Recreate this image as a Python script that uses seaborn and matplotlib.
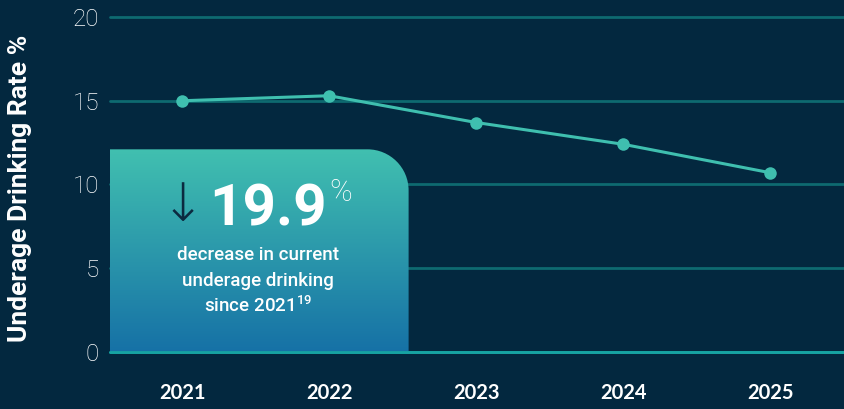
import numpy as np
import pandas as pd
import matplotlib
matplotlib.use("Agg")
import matplotlib.pyplot as plt
import seaborn as sns
from matplotlib.path import Path
from matplotlib.patches import PathPatch

years = [2021, 2022, 2023, 2024, 2025]
rates = [15.0, 15.3, 13.7, 12.4, 10.7]
y_ticks = [0, 5, 10, 15, 20]
y_label = "Underage Drinking Rate %"
big_number = "19.9"
caption_lines = ["decrease in current", "underage drinking", "since 2021"]
footnote = "19"

BG = "#03283f"
GRID = "#0e6a70"
BASE = "#17a3a2"
LINE = "#3fbfaf"

sns.set_theme(style="white")
plt.rcParams["font.family"] = ["Roboto", "DejaVu Sans"]
plt.rcParams["mathtext.default"] = "regular"

fig = plt.figure(figsize=(8.44, 4.09), dpi=100, facecolor=BG)
ax = fig.add_axes([110 / 844, (409 - 352) / 409, 1 - 110 / 844, (352 - 17) / 409])
ax.set_facecolor(BG)
for s in ax.spines.values():
    s.set_visible(False)

ax.set_xlim(2020.51, 2025.5)
ax.set_ylim(0, 20)

# gridlines
for t in y_ticks:
    ax.axhline(t, color=BASE if t == 0 else GRID, lw=2.0, zorder=1, clip_on=False)

# gradient box with rounded top-right corner
x0, x1 = 2020.51, 2022.54
y0, y1 = 0.0, 12.1
rx, ry = 0.28, 2.45
k = 0.5523
verts = [(x0, y0), (x0, y1), (x1 - rx, y1),
         (x1 - rx + k * rx, y1), (x1, y1 - ry + k * ry), (x1, y1 - ry),
         (x1, y0), (x0, y0)]
codes = [Path.MOVETO, Path.LINETO, Path.LINETO,
         Path.CURVE4, Path.CURVE4, Path.CURVE4,
         Path.LINETO, Path.CLOSEPOLY]
box_path = Path(verts, codes)
patch = PathPatch(box_path, facecolor="none", edgecolor="none", zorder=2)
ax.add_patch(patch)
top_c = np.array(matplotlib.colors.to_rgb("#41c0b0"))
bot_c = np.array(matplotlib.colors.to_rgb("#1671a6"))
tt = np.linspace(0, 1, 256)[:, None]
grad = (top_c[None, :] * (1 - tt) + bot_c[None, :] * tt)[:, None, :]
im = ax.imshow(grad, extent=[x0, x1, y0, y1], origin="upper", aspect="auto",
               zorder=2, interpolation="bilinear")
im.set_clip_path(patch)
ax.axhline(0, color=BASE, lw=2.0, zorder=3, clip_on=False)

df = pd.DataFrame({"year": years, "rate": rates})
sns.lineplot(data=df, x="year", y="rate", ax=ax, color=LINE, lw=2.2,
             marker="o", markersize=9, markeredgewidth=0, zorder=4)
ax.set_xlim(2020.51, 2025.5)
ax.set_ylim(0, 20)

ax.set_xticks(years)
ax.set_xticklabels([str(y) for y in years], fontsize=14.5, fontweight="bold",
                   color="white", family=["Lato", "DejaVu Sans"])
ax.set_yticks(y_ticks)
ax.set_yticklabels([str(t) for t in y_ticks], fontsize=17.5, fontweight="light",
                   color="white")
ax.tick_params(axis="x", length=0, pad=22)
ax.tick_params(axis="y", length=0, pad=8)
ax.set_xlabel("")
ax.set_ylabel("")
ax.grid(False)

fig.text(20 / 844, 1 - 188 / 409, y_label, rotation=90, ha="center", va="center",
         fontsize=19, fontweight="bold", color="white")

# box text (figure pixel coordinates)
def fx(px):
    return px / 844

def fy(py):
    return 1 - py / 409

fig.text(fx(183), fy(206), "\u2193", ha="center", va="center", fontsize=38,
         color="#0b2a40", family=["DejaVu Sans"], fontweight="light")
fig.text(fx(268), fy(226), big_number, ha="center", va="baseline", fontsize=42,
         fontweight="bold", color="white")
fig.text(fx(329), fy(201), "%", ha="left", va="baseline", fontsize=22,
         fontweight="light", color="white")
for i, line in enumerate(caption_lines):
    txt = line
    fig.text(fx(258), fy(255 + 25.5 * i), txt if i < 2 else txt + "$^{" + footnote + "}$",
             ha="center", va="center", fontsize=13.5, fontweight="medium",
             color="white")

fig.savefig("out.png", dpi=100, facecolor=BG)
